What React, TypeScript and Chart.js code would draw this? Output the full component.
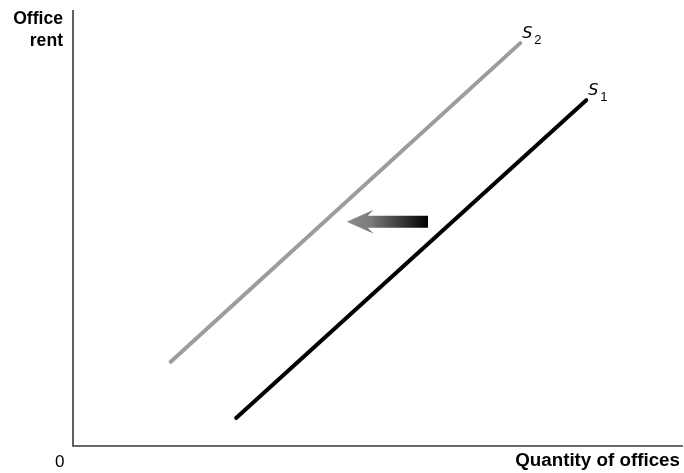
import React, { useEffect, useRef } from "react";
import { Chart, registerables } from "chart.js";

Chart.register(...registerables);

// Supply curves (quantity, rent) in chart units
const s1X = [2.67, 8.4];
const s1Y = [0.66, 7.9];
const s2X = [1.6, 7.32];
const s2Y = [1.94, 9.2];
const curveLabels = ["1", "2"];
// Shift arrow (from S1 towards S2)
const arrowFromX = 5.81;
const arrowToX = 4.48;
const arrowY = 5.13;
// Axis titles
const yTitleLines = ["Office", "rent"];
const xTitle = "Quantity of offices";
const originLabel = "0";

const FONT = '"Liberation Sans", Arial, Helvetica, sans-serif';

export default function App() {
  const ref = useRef<HTMLCanvasElement | null>(null);

  useEffect(() => {
    if (!ref.current) return;
    const overlay = {
      id: "overlay",
      afterDraw(chart: any) {
        const ctx = chart.ctx as CanvasRenderingContext2D;
        const xs = chart.scales.x;
        const ys = chart.scales.y;
        const ca = chart.chartArea;
        ctx.save();
        // axes
        ctx.strokeStyle = "#3a3a3a";
        ctx.lineWidth = 1.6;
        ctx.beginPath();
        ctx.moveTo(ca.left, 10);
        ctx.lineTo(ca.left, ca.bottom - 1);
        ctx.lineTo(683, ca.bottom - 1);
        ctx.stroke();

        // arrow
        const tipX = xs.getPixelForValue(arrowToX);
        const tailX = xs.getPixelForValue(arrowFromX);
        const cy = ys.getPixelForValue(arrowY);
        const grad = ctx.createLinearGradient(tipX, 0, tailX, 0);
        grad.addColorStop(0, "#8e8e8e");
        grad.addColorStop(0.3, "#7a7a7a");
        grad.addColorStop(1, "#000000");
        ctx.fillStyle = grad;
        ctx.beginPath();
        ctx.moveTo(tipX, cy);
        ctx.lineTo(tipX + 27, cy - 12);
        ctx.lineTo(tipX + 21, cy - 6);
        ctx.lineTo(tailX, cy - 6);
        ctx.lineTo(tailX, cy + 6);
        ctx.lineTo(tipX + 21, cy + 6);
        ctx.lineTo(tipX + 27, cy + 12);
        ctx.closePath();
        ctx.fill();

        // curve labels
        ctx.fillStyle = "#000";
        ctx.textAlign = "left";
        ctx.textBaseline = "alphabetic";
        const ends = [
          [s1X[s1X.length - 1], s1Y[s1Y.length - 1]],
          [s2X[s2X.length - 1], s2Y[s2Y.length - 1]],
        ];
        ends.forEach((e, i) => {
          const px = xs.getPixelForValue(e[0]);
          const py = ys.getPixelForValue(e[1]);
          ctx.font = `italic 16px "DejaVu Sans", ${FONT}`;
          ctx.fillText("S", px + 2, py - 5);
          ctx.font = `13px ${FONT}`;
          ctx.fillText(curveLabels[i], px + 14, py + 1);
        });

        // axis titles
        ctx.font = `bold 17.6px ${FONT}`;
        ctx.textAlign = "right";
        ctx.fillText(yTitleLines[0], 63, 24);
        ctx.fillText(yTitleLines[1], 63, 46);
        ctx.font = `bold 18.8px ${FONT}`;
        ctx.fillText(xTitle, 680, 466);
        ctx.font = `17px ${FONT}`;
        ctx.textAlign = "left";
        ctx.fillText(originLabel, 55, 466.5);
        ctx.restore();
      },
    };

    const chart = new Chart(ref.current, {
      type: "scatter",
      data: {
        datasets: [
          {
            data: s2X.map((x, i) => ({ x, y: s2Y[i] })),
            showLine: true,
            borderColor: "#9c9c9c",
            borderWidth: 4,
            borderCapStyle: "round",
            pointRadius: 0,
          },
          {
            data: s1X.map((x, i) => ({ x, y: s1Y[i] })),
            showLine: true,
            borderColor: "#000000",
            borderWidth: 4,
            borderCapStyle: "round",
            pointRadius: 0,
          },
        ],
      },
      options: {
        animation: false,
        responsive: false,
        maintainAspectRatio: false,
        layout: { padding: { left: 73, right: 0, top: 8, bottom: 26 } },
        plugins: { legend: { display: false }, tooltip: { enabled: false } },
        scales: {
          x: { type: "linear", min: 0, max: 10, display: false },
          y: { type: "linear", min: 0, max: 10, display: false },
        },
      },
      plugins: [overlay],
    } as any);
    return () => chart.destroy();
  }, []);

  return (
    <div style={{ position: "fixed", left: 0, top: 0, width: 684, height: 473, background: "#fff" }}>
      <canvas ref={ref} width={684} height={473} style={{ display: "block" }} />
    </div>
  );
}
